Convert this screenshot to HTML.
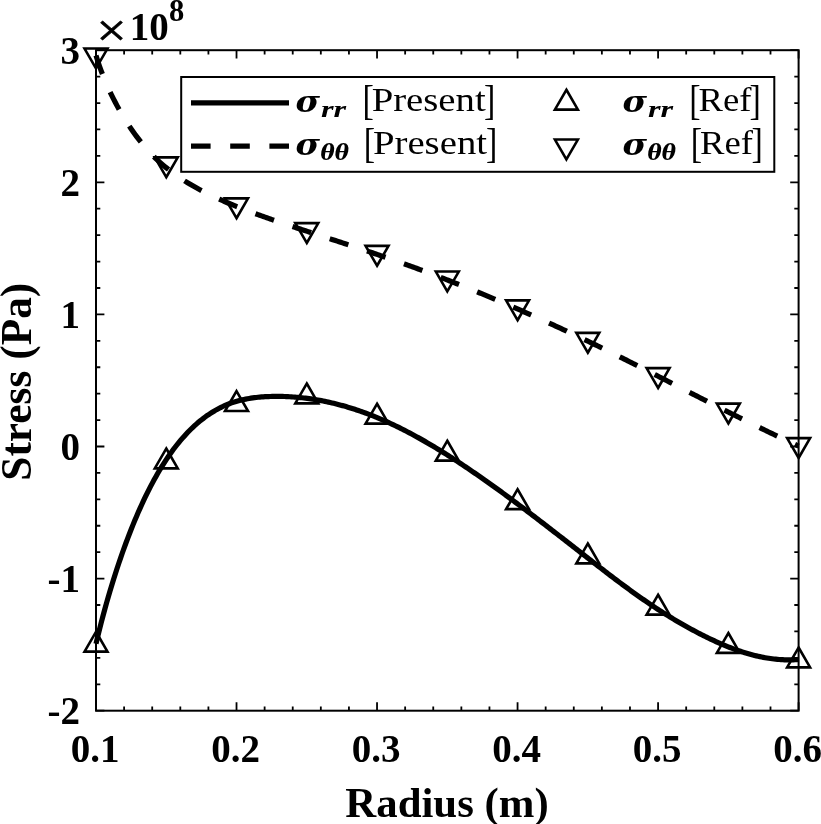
<!DOCTYPE html>
<html lang="en"><head><meta charset="utf-8"><title>Stress vs Radius</title>
<style>
html,body{margin:0;padding:0;background:#fff;}
body{width:821px;height:824px;overflow:hidden;}
svg{display:block;}
.tk{font-family:"Liberation Serif","Times New Roman",serif;font-weight:bold;font-size:39px;fill:#000;}
.lb{font-family:"Liberation Serif","Times New Roman",serif;font-weight:bold;font-size:42.8px;fill:#000;}
.lg{font-family:"Liberation Serif","Times New Roman",serif;font-size:34px;fill:#000;}
</style></head><body>
<svg width="821" height="824" viewBox="0 0 821 824">
<rect x="0" y="0" width="821" height="824" fill="#fff"/>
<path d="M96.00,710.70 v-8.40 M96.00,50.20 v8.40 M124.10,710.70 v-4.30 M124.10,50.20 v4.30 M152.21,710.70 v-4.30 M152.21,50.20 v4.30 M180.31,710.70 v-4.30 M180.31,50.20 v4.30 M208.42,710.70 v-4.30 M208.42,50.20 v4.30 M236.52,710.70 v-8.40 M236.52,50.20 v8.40 M264.62,710.70 v-4.30 M264.62,50.20 v4.30 M292.73,710.70 v-4.30 M292.73,50.20 v4.30 M320.83,710.70 v-4.30 M320.83,50.20 v4.30 M348.94,710.70 v-4.30 M348.94,50.20 v4.30 M377.04,710.70 v-8.40 M377.04,50.20 v8.40 M405.14,710.70 v-4.30 M405.14,50.20 v4.30 M433.25,710.70 v-4.30 M433.25,50.20 v4.30 M461.35,710.70 v-4.30 M461.35,50.20 v4.30 M489.46,710.70 v-4.30 M489.46,50.20 v4.30 M517.56,710.70 v-8.40 M517.56,50.20 v8.40 M545.66,710.70 v-4.30 M545.66,50.20 v4.30 M573.77,710.70 v-4.30 M573.77,50.20 v4.30 M601.87,710.70 v-4.30 M601.87,50.20 v4.30 M629.98,710.70 v-4.30 M629.98,50.20 v4.30 M658.08,710.70 v-8.40 M658.08,50.20 v8.40 M686.18,710.70 v-4.30 M686.18,50.20 v4.30 M714.29,710.70 v-4.30 M714.29,50.20 v4.30 M742.39,710.70 v-4.30 M742.39,50.20 v4.30 M770.50,710.70 v-4.30 M770.50,50.20 v4.30 M798.60,710.70 v-8.40 M798.60,50.20 v8.40 M96.00,710.70 h8.40 M798.60,710.70 h-8.40 M96.00,684.28 h4.30 M798.60,684.28 h-4.30 M96.00,657.86 h4.30 M798.60,657.86 h-4.30 M96.00,631.44 h4.30 M798.60,631.44 h-4.30 M96.00,605.02 h4.30 M798.60,605.02 h-4.30 M96.00,578.60 h8.40 M798.60,578.60 h-8.40 M96.00,552.18 h4.30 M798.60,552.18 h-4.30 M96.00,525.76 h4.30 M798.60,525.76 h-4.30 M96.00,499.34 h4.30 M798.60,499.34 h-4.30 M96.00,472.92 h4.30 M798.60,472.92 h-4.30 M96.00,446.50 h8.40 M798.60,446.50 h-8.40 M96.00,420.08 h4.30 M798.60,420.08 h-4.30 M96.00,393.66 h4.30 M798.60,393.66 h-4.30 M96.00,367.24 h4.30 M798.60,367.24 h-4.30 M96.00,340.82 h4.30 M798.60,340.82 h-4.30 M96.00,314.40 h8.40 M798.60,314.40 h-8.40 M96.00,287.98 h4.30 M798.60,287.98 h-4.30 M96.00,261.56 h4.30 M798.60,261.56 h-4.30 M96.00,235.14 h4.30 M798.60,235.14 h-4.30 M96.00,208.72 h4.30 M798.60,208.72 h-4.30 M96.00,182.30 h8.40 M798.60,182.30 h-8.40 M96.00,155.88 h4.30 M798.60,155.88 h-4.30 M96.00,129.46 h4.30 M798.60,129.46 h-4.30 M96.00,103.04 h4.30 M798.60,103.04 h-4.30 M96.00,76.62 h4.30 M798.60,76.62 h-4.30 M96.00,50.20 h8.40 M798.60,50.20 h-8.40" stroke="#000" stroke-width="1.8" fill="none"/>
<rect x="96.0" y="50.2" width="702.60" height="660.50" fill="none" stroke="#000" stroke-width="2.0"/>
<path d="M96.00,643.74 L97.76,636.40 L99.52,629.29 L101.28,622.41 L103.04,615.73 L104.80,609.24 L106.57,602.92 L108.33,596.77 L110.09,590.77 L111.85,584.93 L113.61,579.23 L115.37,573.68 L117.13,568.25 L118.89,562.96 L120.65,557.79 L122.41,552.74 L124.17,547.81 L125.94,543.00 L127.70,538.30 L129.46,533.71 L131.22,529.23 L132.98,524.85 L134.74,520.57 L136.50,516.40 L138.26,512.33 L140.02,508.35 L141.78,504.47 L143.54,500.68 L145.31,496.98 L147.07,493.38 L148.83,489.86 L150.59,486.43 L152.35,483.09 L154.11,479.83 L155.87,476.66 L157.63,473.57 L159.39,470.56 L161.15,467.64 L162.91,464.79 L164.68,462.03 L166.44,459.34 L168.20,456.72 L169.96,454.19 L171.72,451.72 L173.48,449.33 L175.24,447.01 L177.00,444.75 L178.76,442.57 L180.52,440.45 L182.28,438.39 L184.05,436.40 L185.81,434.47 L187.57,432.59 L189.33,430.78 L191.09,429.03 L192.85,427.34 L194.61,425.70 L196.37,424.11 L198.13,422.59 L199.89,421.11 L201.65,419.69 L203.42,418.32 L205.18,417.00 L206.94,415.73 L208.70,414.52 L210.46,413.35 L212.22,412.23 L213.98,411.16 L215.74,410.13 L217.50,409.15 L219.26,408.22 L221.02,407.33 L222.78,406.49 L224.55,405.69 L226.31,404.94 L228.07,404.22 L229.83,403.55 L231.59,402.92 L233.35,402.32 L235.11,401.77 L236.87,401.24 L238.63,400.75 L240.39,400.30 L242.15,399.87 L243.92,399.48 L245.68,399.11 L247.44,398.77 L249.20,398.46 L250.96,398.18 L252.72,397.92 L254.48,397.68 L256.24,397.47 L258.00,397.27 L259.76,397.10 L261.52,396.95 L263.29,396.82 L265.05,396.71 L266.81,396.62 L268.57,396.54 L270.33,396.48 L272.09,396.43 L273.85,396.40 L275.61,396.39 L277.37,396.38 L279.13,396.39 L280.89,396.42 L282.66,396.46 L284.42,396.51 L286.18,396.58 L287.94,396.65 L289.70,396.75 L291.46,396.85 L293.22,396.97 L294.98,397.10 L296.74,397.25 L298.50,397.41 L300.26,397.58 L302.03,397.77 L303.79,397.97 L305.55,398.18 L307.31,398.41 L309.07,398.64 L310.83,398.90 L312.59,399.16 L314.35,399.44 L316.11,399.73 L317.87,400.03 L319.63,400.35 L321.40,400.68 L323.16,401.02 L324.92,401.37 L326.68,401.74 L328.44,402.12 L330.20,402.52 L331.96,402.92 L333.72,403.34 L335.48,403.77 L337.24,404.21 L339.00,404.67 L340.77,405.14 L342.53,405.62 L344.29,406.12 L346.05,406.62 L347.81,407.14 L349.57,407.67 L351.33,408.21 L353.09,408.77 L354.85,409.34 L356.61,409.92 L358.37,410.51 L360.14,411.12 L361.90,411.73 L363.66,412.36 L365.42,413.00 L367.18,413.66 L368.94,414.32 L370.70,415.00 L372.46,415.69 L374.22,416.39 L375.98,417.10 L377.74,417.83 L379.51,418.56 L381.27,419.31 L383.03,420.07 L384.79,420.85 L386.55,421.63 L388.31,422.43 L390.07,423.24 L391.83,424.06 L393.59,424.89 L395.35,425.73 L397.11,426.58 L398.88,427.45 L400.64,428.32 L402.40,429.21 L404.16,430.11 L405.92,431.01 L407.68,431.93 L409.44,432.86 L411.20,433.80 L412.96,434.74 L414.72,435.70 L416.48,436.67 L418.25,437.64 L420.01,438.63 L421.77,439.62 L423.53,440.62 L425.29,441.63 L427.05,442.65 L428.81,443.68 L430.57,444.72 L432.33,445.76 L434.09,446.82 L435.85,447.88 L437.62,448.94 L439.38,450.02 L441.14,451.10 L442.90,452.20 L444.66,453.29 L446.42,454.40 L448.18,455.51 L449.94,456.63 L451.70,457.76 L453.46,458.89 L455.22,460.03 L456.98,461.18 L458.75,462.33 L460.51,463.49 L462.27,464.66 L464.03,465.83 L465.79,467.01 L467.55,468.19 L469.31,469.38 L471.07,470.58 L472.83,471.78 L474.59,472.98 L476.35,474.20 L478.12,475.41 L479.88,476.64 L481.64,477.87 L483.40,479.10 L485.16,480.34 L486.92,481.58 L488.68,482.83 L490.44,484.08 L492.20,485.34 L493.96,486.60 L495.72,487.87 L497.49,489.14 L499.25,490.41 L501.01,491.69 L502.77,492.98 L504.53,494.27 L506.29,495.56 L508.05,496.85 L509.81,498.15 L511.57,499.46 L513.33,500.76 L515.09,502.08 L516.86,503.39 L518.62,504.71 L520.38,506.03 L522.14,507.35 L523.90,508.68 L525.66,510.01 L527.42,511.34 L529.18,512.67 L530.94,514.01 L532.70,515.35 L534.46,516.69 L536.23,518.04 L537.99,519.38 L539.75,520.73 L541.51,522.08 L543.27,523.43 L545.03,524.79 L546.79,526.14 L548.55,527.50 L550.31,528.86 L552.07,530.22 L553.83,531.58 L555.60,532.95 L557.36,534.31 L559.12,535.68 L560.88,537.04 L562.64,538.41 L564.40,539.78 L566.16,541.15 L567.92,542.52 L569.68,543.89 L571.44,545.26 L573.20,546.64 L574.97,548.01 L576.73,549.38 L578.49,550.75 L580.25,552.13 L582.01,553.50 L583.77,554.88 L585.53,556.25 L587.29,557.62 L589.05,559.00 L590.81,560.37 L592.57,561.74 L594.34,563.11 L596.10,564.47 L597.86,565.84 L599.62,567.20 L601.38,568.56 L603.14,569.92 L604.90,571.27 L606.66,572.62 L608.42,573.97 L610.18,575.31 L611.94,576.65 L613.71,577.98 L615.47,579.31 L617.23,580.64 L618.99,581.96 L620.75,583.27 L622.51,584.58 L624.27,585.88 L626.03,587.18 L627.79,588.47 L629.55,589.75 L631.31,591.03 L633.08,592.30 L634.84,593.56 L636.60,594.81 L638.36,596.06 L640.12,597.30 L641.88,598.53 L643.64,599.75 L645.40,600.97 L647.16,602.17 L648.92,603.37 L650.68,604.55 L652.45,605.73 L654.21,606.90 L655.97,608.06 L657.73,609.21 L659.49,610.34 L661.25,611.47 L663.01,612.59 L664.77,613.70 L666.53,614.80 L668.29,615.89 L670.05,616.97 L671.82,618.05 L673.58,619.11 L675.34,620.16 L677.10,621.20 L678.86,622.23 L680.62,623.26 L682.38,624.27 L684.14,625.27 L685.90,626.27 L687.66,627.25 L689.42,628.22 L691.18,629.19 L692.95,630.14 L694.71,631.08 L696.47,632.02 L698.23,632.94 L699.99,633.85 L701.75,634.75 L703.51,635.64 L705.27,636.52 L707.03,637.38 L708.79,638.24 L710.55,639.08 L712.32,639.91 L714.08,640.73 L715.84,641.54 L717.60,642.33 L719.36,643.11 L721.12,643.88 L722.88,644.63 L724.64,645.37 L726.40,646.10 L728.16,646.80 L729.92,647.50 L731.69,648.18 L733.45,648.84 L735.21,649.48 L736.97,650.11 L738.73,650.73 L740.49,651.32 L742.25,651.90 L744.01,652.46 L745.77,653.00 L747.53,653.52 L749.29,654.03 L751.06,654.51 L752.82,654.98 L754.58,655.43 L756.34,655.86 L758.10,656.26 L759.86,656.65 L761.62,657.02 L763.38,657.36 L765.14,657.69 L766.90,657.99 L768.66,658.27 L770.43,658.53 L772.19,658.77 L773.95,658.98 L775.71,659.17 L777.47,659.34 L779.23,659.49 L780.99,659.61 L782.75,659.71 L784.51,659.78 L786.27,659.83 L788.03,659.86 L789.80,659.86 L791.56,659.83 L793.32,659.79 L795.08,659.71 L796.84,659.61 L798.60,659.48" fill="none" stroke="#000" stroke-width="5.2" stroke-linejoin="round"/>
<path d="M96.00,55.50 L97.76,61.09 L99.52,66.26 L101.28,71.09 L103.04,75.66 L104.80,79.99 L106.57,84.13 L108.33,88.10 L110.09,91.91 L111.85,95.58 L113.61,99.12 L115.37,102.54 L117.13,105.85 L118.89,109.05 L120.65,112.16 L122.41,115.18 L124.17,118.10 L125.94,120.95 L127.70,123.70 L129.46,126.39 L131.22,128.99 L132.98,131.52 L134.74,133.98 L136.50,136.37 L138.26,138.69 L140.02,140.94 L141.78,143.14 L143.54,145.27 L145.31,147.33 L147.07,149.34 L148.83,151.29 L150.59,153.18 L152.35,155.02 L154.11,156.80 L155.87,158.53 L157.63,160.20 L159.39,161.83 L161.15,163.41 L162.91,164.94 L164.68,166.43 L166.44,167.88 L168.20,169.29 L169.96,170.67 L171.72,172.01 L173.48,173.32 L175.24,174.59 L177.00,175.83 L178.76,177.05 L180.52,178.23 L182.28,179.39 L184.05,180.53 L185.81,181.64 L187.57,182.72 L189.33,183.78 L191.09,184.83 L192.85,185.85 L194.61,186.85 L196.37,187.83 L198.13,188.79 L199.89,189.74 L201.65,190.67 L203.42,191.58 L205.18,192.48 L206.94,193.36 L208.70,194.23 L210.46,195.08 L212.22,195.93 L213.98,196.76 L215.74,197.57 L217.50,198.38 L219.26,199.17 L221.02,199.96 L222.78,200.73 L224.55,201.49 L226.31,202.25 L228.07,203.00 L229.83,203.73 L231.59,204.46 L233.35,205.18 L235.11,205.90 L236.87,206.60 L238.63,207.30 L240.39,208.00 L242.15,208.68 L243.92,209.36 L245.68,210.04 L247.44,210.71 L249.20,211.37 L250.96,212.03 L252.72,212.69 L254.48,213.33 L256.24,213.98 L258.00,214.62 L259.76,215.26 L261.52,215.89 L263.29,216.52 L265.05,217.14 L266.81,217.76 L268.57,218.38 L270.33,218.99 L272.09,219.60 L273.85,220.21 L275.61,220.82 L277.37,221.42 L279.13,222.02 L280.89,222.62 L282.66,223.22 L284.42,223.81 L286.18,224.40 L287.94,224.99 L289.70,225.58 L291.46,226.17 L293.22,226.75 L294.98,227.34 L296.74,227.92 L298.50,228.50 L300.26,229.08 L302.03,229.66 L303.79,230.24 L305.55,230.81 L307.31,231.39 L309.07,231.97 L310.83,232.54 L312.59,233.12 L314.35,233.69 L316.11,234.26 L317.87,234.84 L319.63,235.41 L321.40,235.98 L323.16,236.56 L324.92,237.13 L326.68,237.70 L328.44,238.28 L330.20,238.85 L331.96,239.43 L333.72,240.00 L335.48,240.58 L337.24,241.15 L339.00,241.73 L340.77,242.30 L342.53,242.88 L344.29,243.46 L346.05,244.04 L347.81,244.62 L349.57,245.20 L351.33,245.78 L353.09,246.36 L354.85,246.94 L356.61,247.53 L358.37,248.11 L360.14,248.70 L361.90,249.29 L363.66,249.88 L365.42,250.47 L367.18,251.06 L368.94,251.65 L370.70,252.25 L372.46,252.84 L374.22,253.44 L375.98,254.04 L377.74,254.64 L379.51,255.24 L381.27,255.85 L383.03,256.45 L384.79,257.06 L386.55,257.67 L388.31,258.28 L390.07,258.89 L391.83,259.50 L393.59,260.12 L395.35,260.74 L397.11,261.36 L398.88,261.98 L400.64,262.60 L402.40,263.23 L404.16,263.86 L405.92,264.49 L407.68,265.12 L409.44,265.76 L411.20,266.39 L412.96,267.03 L414.72,267.67 L416.48,268.31 L418.25,268.96 L420.01,269.61 L421.77,270.26 L423.53,270.91 L425.29,271.56 L427.05,272.22 L428.81,272.88 L430.57,273.54 L432.33,274.21 L434.09,274.87 L435.85,275.54 L437.62,276.21 L439.38,276.89 L441.14,277.56 L442.90,278.24 L444.66,278.92 L446.42,279.60 L448.18,280.29 L449.94,280.97 L451.70,281.66 L453.46,282.35 L455.22,283.05 L456.98,283.74 L458.75,284.44 L460.51,285.14 L462.27,285.84 L464.03,286.54 L465.79,287.25 L467.55,287.96 L469.31,288.67 L471.07,289.38 L472.83,290.10 L474.59,290.82 L476.35,291.54 L478.12,292.26 L479.88,292.98 L481.64,293.71 L483.40,294.43 L485.16,295.16 L486.92,295.90 L488.68,296.63 L490.44,297.37 L492.20,298.11 L493.96,298.85 L495.72,299.59 L497.49,300.33 L499.25,301.08 L501.01,301.83 L502.77,302.58 L504.53,303.33 L506.29,304.09 L508.05,304.84 L509.81,305.60 L511.57,306.36 L513.33,307.13 L515.09,307.89 L516.86,308.66 L518.62,309.43 L520.38,310.20 L522.14,310.97 L523.90,311.75 L525.66,312.52 L527.42,313.30 L529.18,314.08 L530.94,314.87 L532.70,315.65 L534.46,316.44 L536.23,317.23 L537.99,318.02 L539.75,318.81 L541.51,319.61 L543.27,320.40 L545.03,321.20 L546.79,322.00 L548.55,322.80 L550.31,323.61 L552.07,324.41 L553.83,325.22 L555.60,326.03 L557.36,326.84 L559.12,327.66 L560.88,328.47 L562.64,329.29 L564.40,330.11 L566.16,330.93 L567.92,331.76 L569.68,332.58 L571.44,333.41 L573.20,334.24 L574.97,335.07 L576.73,335.90 L578.49,336.73 L580.25,337.57 L582.01,338.41 L583.77,339.25 L585.53,340.09 L587.29,340.93 L589.05,341.78 L590.81,342.63 L592.57,343.48 L594.34,344.33 L596.10,345.18 L597.86,346.03 L599.62,346.89 L601.38,347.75 L603.14,348.61 L604.90,349.47 L606.66,350.33 L608.42,351.20 L610.18,352.07 L611.94,352.93 L613.71,353.80 L615.47,354.68 L617.23,355.55 L618.99,356.43 L620.75,357.30 L622.51,358.18 L624.27,359.07 L626.03,359.95 L627.79,360.83 L629.55,361.72 L631.31,362.60 L633.08,363.49 L634.84,364.38 L636.60,365.27 L638.36,366.17 L640.12,367.06 L641.88,367.95 L643.64,368.85 L645.40,369.74 L647.16,370.64 L648.92,371.54 L650.68,372.44 L652.45,373.34 L654.21,374.24 L655.97,375.14 L657.73,376.04 L659.49,376.94 L661.25,377.84 L663.01,378.75 L664.77,379.65 L666.53,380.55 L668.29,381.46 L670.05,382.36 L671.82,383.26 L673.58,384.17 L675.34,385.07 L677.10,385.98 L678.86,386.88 L680.62,387.78 L682.38,388.69 L684.14,389.59 L685.90,390.50 L687.66,391.40 L689.42,392.30 L691.18,393.20 L692.95,394.11 L694.71,395.01 L696.47,395.91 L698.23,396.81 L699.99,397.71 L701.75,398.61 L703.51,399.51 L705.27,400.41 L707.03,401.31 L708.79,402.20 L710.55,403.10 L712.32,403.99 L714.08,404.89 L715.84,405.78 L717.60,406.67 L719.36,407.56 L721.12,408.46 L722.88,409.34 L724.64,410.23 L726.40,411.12 L728.16,412.01 L729.92,412.89 L731.69,413.77 L733.45,414.66 L735.21,415.54 L736.97,416.42 L738.73,417.29 L740.49,418.17 L742.25,419.04 L744.01,419.92 L745.77,420.79 L747.53,421.66 L749.29,422.53 L751.06,423.40 L752.82,424.26 L754.58,425.13 L756.34,425.99 L758.10,426.85 L759.86,427.71 L761.62,428.56 L763.38,429.42 L765.14,430.27 L766.90,431.12 L768.66,431.97 L770.43,432.82 L772.19,433.66 L773.95,434.50 L775.71,435.35 L777.47,436.18 L779.23,437.02 L780.99,437.86 L782.75,438.69 L784.51,439.52 L786.27,440.35 L788.03,441.17 L789.80,441.99 L791.56,442.81 L793.32,443.63 L795.08,444.45 L796.84,445.26 L798.60,446.07" fill="none" stroke="#000" stroke-width="5.2" stroke-linejoin="round" stroke-dasharray="19.59 19.59"/>
<g fill="none" stroke="#000" stroke-width="2.6" stroke-linejoin="miter" stroke-miterlimit="10">
<path d="M96.00,631.73 L107.49,651.63 L84.51,651.63 Z"/>
<path d="M166.26,448.48 L177.75,468.38 L154.77,468.38 Z"/>
<path d="M236.52,391.13 L248.01,411.03 L225.03,411.03 Z"/>
<path d="M306.78,383.48 L318.27,403.38 L295.29,403.38 Z"/>
<path d="M377.04,403.73 L388.53,423.63 L365.55,423.63 Z"/>
<path d="M447.30,440.73 L458.79,460.63 L435.81,460.63 Z"/>
<path d="M517.56,489.23 L529.05,509.13 L506.07,509.13 Z"/>
<path d="M587.82,543.48 L599.31,563.38 L576.33,563.38 Z"/>
<path d="M658.08,594.73 L669.57,614.63 L646.59,614.63 Z"/>
<path d="M728.34,632.98 L739.83,652.88 L716.85,652.88 Z"/>
<path d="M798.60,647.48 L810.09,667.38 L787.11,667.38 Z"/>
<path d="M96.00,68.47 L107.49,48.57 L84.51,48.57 Z"/>
<path d="M166.26,177.27 L177.75,157.37 L154.77,157.37 Z"/>
<path d="M236.52,218.27 L248.01,198.37 L225.03,198.37 Z"/>
<path d="M306.78,243.02 L318.27,223.12 L295.29,223.12 Z"/>
<path d="M377.04,265.77 L388.53,245.87 L365.55,245.87 Z"/>
<path d="M447.30,291.47 L458.79,271.57 L435.81,271.57 Z"/>
<path d="M517.56,320.27 L529.05,300.37 L506.07,300.37 Z"/>
<path d="M587.82,352.77 L599.31,332.87 L576.33,332.87 Z"/>
<path d="M658.08,388.02 L669.57,368.12 L646.59,368.12 Z"/>
<path d="M728.34,423.52 L739.83,403.62 L716.85,403.62 Z"/>
<path d="M798.60,458.02 L810.09,438.12 L787.11,438.12 Z"/>
</g>
<rect x="181.2" y="77.0" width="593.10" height="94.80" fill="#fff" stroke="#000" stroke-width="2"/>
<path d="M191,102.8 H289" stroke="#000" stroke-width="5.2" fill="none"/>
<path d="M191,146.2 H289" stroke="#000" stroke-width="5.2" fill="none" stroke-dasharray="19.6 19.6"/>
<g fill="none" stroke="#000" stroke-width="2.6" stroke-linejoin="miter" stroke-miterlimit="10">
<path d="M566.40,89.73 L577.89,109.63 L554.91,109.63 Z"/>
<path d="M566.40,159.47 L577.89,139.57 L554.91,139.57 Z"/>
</g>
<text x="295.5" y="111.6" textLength="24.5" lengthAdjust="spacingAndGlyphs" style="font-family:'DejaVu Serif',serif;font-weight:bold;font-style:italic;fill:#000;font-size:29.5px">σ</text><text x="321" y="117.2" textLength="25.2" lengthAdjust="spacingAndGlyphs" style="font-family:'Liberation Serif',serif;font-weight:bold;font-style:italic;fill:#000;font-size:24px">rr</text>
<text class="lg" transform="translate(362.50,113.70) scale(1,1.215)">[</text><text class="lg" x="371.70" y="111.20" textLength="114" lengthAdjust="spacingAndGlyphs">Present</text><text class="lg" transform="translate(495.30,113.70) scale(1,1.215)" text-anchor="end">]</text>
<text x="295.5" y="155.0" textLength="24.5" lengthAdjust="spacingAndGlyphs" style="font-family:'DejaVu Serif',serif;font-weight:bold;font-style:italic;fill:#000;font-size:29.5px">σ</text><text x="320.5" y="160.3" textLength="28.6" lengthAdjust="spacingAndGlyphs" style="font-family:'DejaVu Serif',serif;font-weight:bold;font-style:italic;fill:#000;font-size:21.7px">θθ</text>
<text class="lg" transform="translate(363.80,156.70) scale(1,1.215)">[</text><text class="lg" x="373.00" y="153.80" textLength="114" lengthAdjust="spacingAndGlyphs">Present</text><text class="lg" transform="translate(497.30,156.70) scale(1,1.215)" text-anchor="end">]</text>
<text x="622.5" y="111.6" textLength="24.5" lengthAdjust="spacingAndGlyphs" style="font-family:'DejaVu Serif',serif;font-weight:bold;font-style:italic;fill:#000;font-size:29.5px">σ</text><text x="648" y="117.2" textLength="25.2" lengthAdjust="spacingAndGlyphs" style="font-family:'Liberation Serif',serif;font-weight:bold;font-style:italic;fill:#000;font-size:24px">rr</text>
<text class="lg" transform="translate(689.30,113.70) scale(1,1.215)">[</text><text class="lg" x="698.50" y="111.20" textLength="53" lengthAdjust="spacingAndGlyphs">Ref</text><text class="lg" transform="translate(760.90,113.70) scale(1,1.215)" text-anchor="end">]</text>
<text x="622.5" y="155.0" textLength="24.5" lengthAdjust="spacingAndGlyphs" style="font-family:'DejaVu Serif',serif;font-weight:bold;font-style:italic;fill:#000;font-size:29.5px">σ</text><text x="647.5" y="160.3" textLength="28.6" lengthAdjust="spacingAndGlyphs" style="font-family:'DejaVu Serif',serif;font-weight:bold;font-style:italic;fill:#000;font-size:21.7px">θθ</text>
<text class="lg" transform="translate(690.80,156.70) scale(1,1.215)">[</text><text class="lg" x="700.00" y="153.80" textLength="53" lengthAdjust="spacingAndGlyphs">Ref</text><text class="lg" transform="translate(762.80,156.70) scale(1,1.215)" text-anchor="end">]</text>
<text class="tk" x="95.10" y="762.4" text-anchor="middle">0.1</text>
<text class="tk" x="235.62" y="762.4" text-anchor="middle">0.2</text>
<text class="tk" x="376.14" y="762.4" text-anchor="middle">0.3</text>
<text class="tk" x="516.66" y="762.4" text-anchor="middle">0.4</text>
<text class="tk" x="657.18" y="762.4" text-anchor="middle">0.5</text>
<text class="tk" x="797.70" y="762.4" text-anchor="middle">0.6</text>
<text class="tk" x="80" y="63.80" text-anchor="end">3</text>
<text class="tk" x="80" y="195.90" text-anchor="end">2</text>
<text class="tk" x="80" y="328.00" text-anchor="end">1</text>
<text class="tk" x="80" y="460.10" text-anchor="end">0</text>
<text class="tk" x="80" y="592.20" text-anchor="end">-1</text>
<text class="tk" x="80" y="724.30" text-anchor="end">-2</text>
<text transform="translate(111.5,46) scale(1.12,1)" text-anchor="middle" style="font-family:'Liberation Serif',serif;font-size:47.5px;fill:#000;stroke:#000;stroke-width:0.7px">×</text>
<text class="tk" x="129.8" y="40.2">10</text>
<text class="tk" x="169" y="21.4" style="font-size:30.5px">8</text>
<text class="lb" x="447" y="816.6" text-anchor="middle">Radius (m)</text>
<text class="lb" transform="translate(30.5,381.7) rotate(-90)" text-anchor="middle" style="font-size:43.4px">Stress (Pa)</text>
</svg>
</body></html>
